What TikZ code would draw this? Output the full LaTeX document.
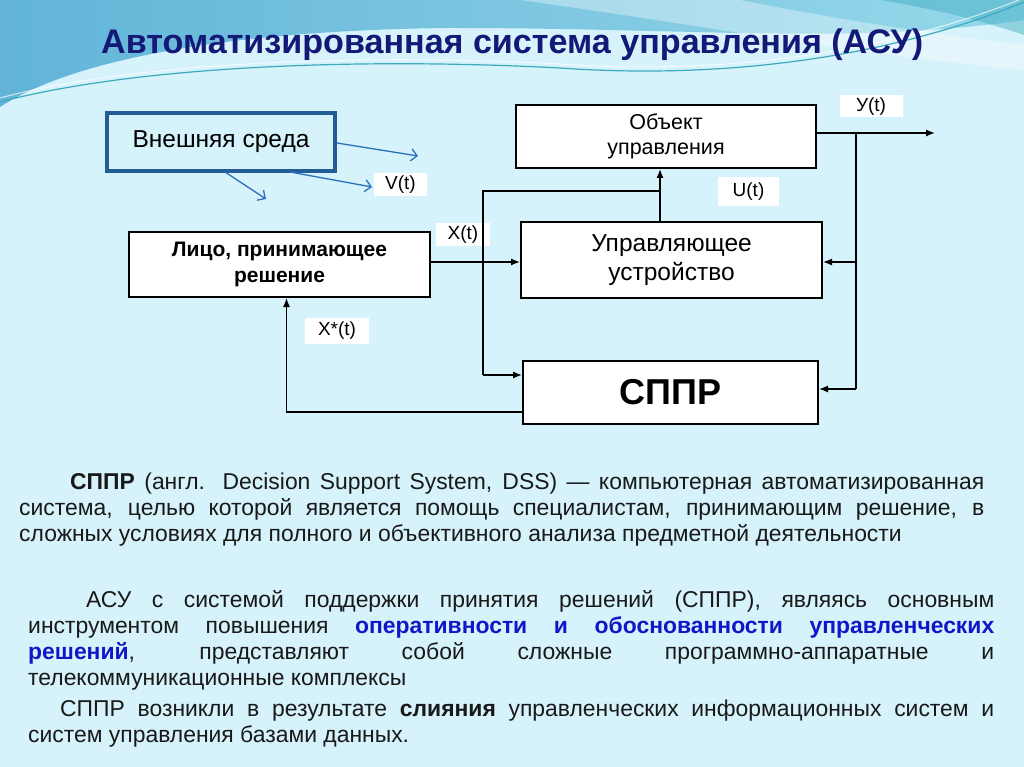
\documentclass[tikz,border=0pt]{standalone}
\usepackage{graphicx}
\usepackage{fontspec}
\setmainfont{Liberation Sans}
\usetikzlibrary{arrows.meta}
\definecolor{bgc}{RGB}{214,242,250}
\definecolor{topblue}{RGB}{98,180,216}
\definecolor{topcyan}{RGB}{150,216,234}
\definecolor{tealc}{RGB}{60,170,190}
\definecolor{titlec}{RGB}{20,24,118}
\definecolor{extblue}{RGB}{36,92,150}
\definecolor{arrblue}{RGB}{46,112,190}
\definecolor{txtblue}{RGB}{20,20,200}
\definecolor{bodyc}{RGB}{25,25,25}
\newcommand{\fs}[2]{\fontsize{#1}{#2}\selectfont}
\begin{document}
\begin{tikzpicture}[x=1pt,y=-1pt,
  box/.style={draw=black,line width=2pt,fill=white,inner sep=0pt,align=center},
  lbl/.style={fill=white,inner sep=0pt,font=\fs{19}{21}},
  conn/.style={line width=1.3pt,-{Latex[length=9pt,width=7pt]}},
  plainln/.style={line width=1.3pt},
  barr/.style={draw=arrblue,line width=1.3pt,-{Straight Barb[length=6pt,width=12pt]}},
  body/.style={inner sep=0pt,anchor=base west,text=bodyc,font=\fs{22.9}{26}}
]
\useasboundingbox (0,0) rectangle (1024,767);
\fill[bgc] (0,0) rectangle (1024,767);
% top decoration
\shade[left color=topblue,right color=topcyan] (0,0) -- (1024,0) -- (1024,20)
  .. controls (850,45) and (700,28) .. (450,28) .. controls (250,30) and (80,55) .. (0,107) -- cycle;
\fill[white,opacity=0.35] (520,0) .. controls (700,25) and (860,55) .. (1024,70) -- (1024,45)
  .. controls (900,30) and (800,12) .. (740,0) -- cycle;
\fill[tealc,opacity=0.45] (880,0) -- (1024,0) -- (1024,35) .. controls (980,20) and (930,8) .. (880,0) -- cycle;
\draw[tealc,line width=1.2pt] (0,102) .. controls (120,70) and (330,56) .. (560,68)
  .. controls (700,78) and (870,65) .. (1024,2);
\draw[white,line width=1pt,opacity=0.7] (0,98) .. controls (120,66) and (330,52) .. (560,64)
  .. controls (700,74) and (870,60) .. (1024,-2);

% title
\node[inner sep=0pt,anchor=base west,text=titlec,font=\bfseries] (title) at (101,54)
  {\resizebox{822pt}{!}{\fs{30}{34}Автоматизированная система управления (АСУ)}};

% blocks
\node[draw=extblue,line width=4pt,fill=bgc,inner sep=0pt,minimum width=228pt,minimum height=58pt,font=\fs{24.5}{28}] (ext) at (221,142) {Внешняя среда};
\node[box,minimum width=300pt,minimum height=63pt,font=\fs{21.5}{25}] (obj) at (666,136.5) {Объект\\управления};
\node[box,minimum width=301pt,minimum height=76pt,font=\fs{24.5}{29}] (ctrl) at (671.5,260) {Управляющее\\устройство};
\node[box,minimum width=301pt,minimum height=65pt,font=\bfseries\fs{21}{26}] (lpr) at (279.5,264.5) {Лицо, принимающее\\решение};
\node[box,minimum width=295pt,minimum height=63pt,font=\bfseries\fs{36}{40}] (sppr) at (670.5,392.5) {СППР};

% labels
\node[lbl,minimum width=63pt,minimum height=22pt] (ylbl) at (871,106.5) {У(t)\hspace{10pt}};
\node[lbl,minimum width=53pt,minimum height=23pt] (vlbl) at (400.5,184.5) {V(t)\hspace{6pt}};
\node[lbl,minimum width=54pt,minimum height=23pt] (xlbl) at (463,234.5) {X(t)};
\node[lbl,minimum width=61pt,minimum height=29pt] (ulbl) at (748.5,191.5) {U(t)\hspace{4pt}};
\node[lbl,minimum width=64pt,minimum height=26pt] (xslbl) at (337,331) {X*(t)};

% coordinates
\coordinate (xin) at (430,262);
\coordinate (yt) at (856,133);
\coordinate (yout) at (935,133);
\coordinate (yb) at (856,389);
\coordinate (ux) at (660,191);
\coordinate (lx) at (483,191);
\coordinate (lxb) at (483,375);
\coordinate (fb) at (286.5,412);
\coordinate (e1) at (418,156);
\coordinate (e2s) at (225,172);
\coordinate (e2) at (266,199);
\coordinate (e3s) at (290,172);
\coordinate (e3) at (372,187);

% connectors
\draw[conn] (lpr.east |- xin) -- (ctrl.west |- xin);
\draw[conn] (obj.east |- yout) -- (yout);
\draw[plainln] (yt) -- (yb);
\draw[conn] (yt |- xin) -- (ctrl.east |- xin);
\draw[conn] (yb) -- (sppr.east |- yb);
\draw[conn] (ctrl.north -| ux) -- (obj.south -| ux);
\draw[plainln] (ux) -- (lx) -- (lxb);
\draw[conn] (lxb) -- (sppr.west |- lxb);
\draw[conn] (sppr.west |- fb) -- (fb) -- (lpr.south -| fb);
\draw[barr] (ext.east |- 0,143) -- (e1);
\draw[barr] (e2s) -- (e2);
\draw[barr] (e3s) -- (e3);

% body text
\node[body] (b1l1) at (70,489.5) {\makebox[914pt][s]{\textbf{СППР} (англ. Decision Support System, DSS) — компьютерная автоматизированная}};
\node[body] (b1l2) at (19,515.5) {\makebox[965pt][s]{система, целью которой является помощь специалистам, принимающим решение, в}};
\node[body] (b1l3) at (19,541.5) {сложных условиях для полного и объективного анализа предметной деятельности};

\node[body] (b2l1) at (86,607.5) {\makebox[908pt][s]{АСУ с системой поддержки принятия решений (СППР), являясь основным}};
\node[body] (b2l2) at (28,633.5) {\makebox[966pt][s]{инструментом повышения \textcolor{txtblue}{\textbf{оперативности и обоснованности управленческих}}}};
\node[body] (b2l3) at (28,659.5) {\makebox[966pt][s]{\textcolor{txtblue}{\textbf{решений}}, представляют собой сложные программно-аппаратные и}};
\node[body] (b2l4) at (28,685.5) {телекоммуникационные комплексы};

\node[body] (b3l1) at (60,716.5) {\makebox[934pt][s]{СППР возникли в результате \textbf{слияния} управленческих информационных систем и}};
\node[body] (b3l2) at (28,742.5) {систем управления базами данных.};
\end{tikzpicture}
\end{document}
